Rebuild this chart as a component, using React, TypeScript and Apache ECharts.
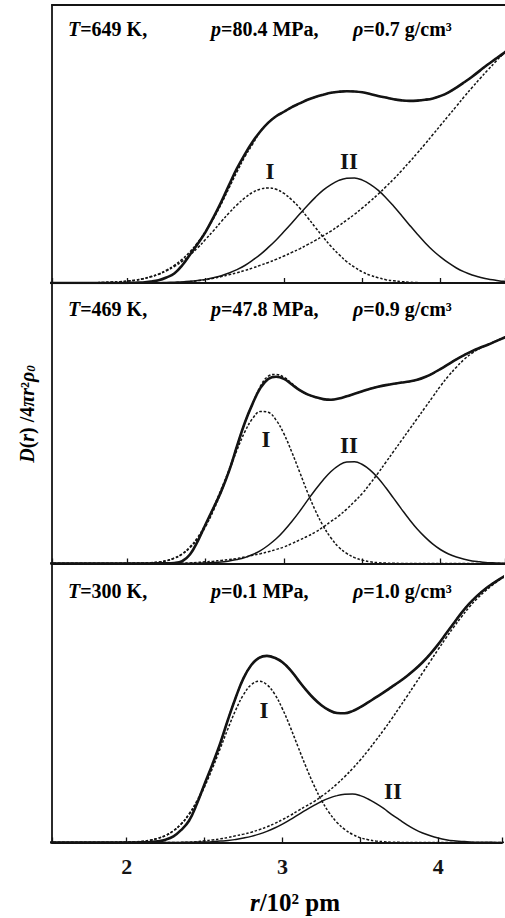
import React, { useEffect, useRef } from "react";
import * as echarts from "echarts";

// r / 10^2 pm, sampled every 0.05
const R = [
  1.5, 1.55, 1.6, 1.65, 1.7, 1.75, 1.8, 1.85, 1.9, 1.95,
  2.0, 2.05, 2.1, 2.15, 2.2, 2.25, 2.3, 2.35, 2.4, 2.45,
  2.5, 2.55, 2.6, 2.65, 2.7, 2.75, 2.8, 2.85, 2.9, 2.95,
  3.0, 3.05, 3.1, 3.15, 3.2, 3.25, 3.3, 3.35, 3.4, 3.45,
  3.5, 3.55, 3.6, 3.65, 3.7, 3.75, 3.8, 3.85, 3.9, 3.95,
  4.0, 4.05, 4.1, 4.15, 4.2, 4.25, 4.3, 4.35, 4.4, 4.45, 4.5,
];

// ---- T = 649 K ----
const total649 = [
  0, 0, 0, 0, 0, 0, 0, 0, 0, 0,
  0.05, 0.1, 0.2, 0.5, 1.0, 2.0, 3.4, 6.3, 10.2, 14.1,
  18.4, 23.6, 29.2, 35.3, 41.2, 46.3, 50.8, 54.6, 57.7, 60.0,
  61.6, 63.3, 64.6, 65.9, 66.9, 67.7, 68.4, 68.8, 69.0, 68.9,
  68.6, 68.0, 67.3, 66.7, 66.1, 65.7, 65.5, 65.6, 65.9, 66.4,
  67.3, 68.6, 70.3, 72.2, 74.2, 76.4, 78.6, 80.6, 82.6, 84.8, 87.0,
];
// fitted sum where it departs from the measured curve (r <= 2.8)
const fitHead649 = [
  0, 0, 0, 0, 0, 0.05, 0.1, 0.2, 0.3, 0.4,
  0.7, 1.0, 1.5, 2.3, 3.2, 4.6, 6.3, 8.5, 11.2, 14.6,
  18.6, 23.2, 28.5, 34.3, 40.0, 45.4, 50.0,
];
const peakI649 = [
  0, 0, 0, 0, 0, 0.05, 0.1, 0.2, 0.3, 0.4,
  0.7, 1.0, 1.5, 2.2, 3.1, 4.4, 5.9, 7.8, 10.1, 12.7,
  15.7, 18.8, 22.1, 25.2, 28.1, 30.6, 32.6, 33.8, 34.2, 33.7,
  32.2, 29.9, 27.0, 23.6, 20.0, 16.5, 13.2, 10.3, 7.7, 5.7,
  4.0, 2.8, 1.9, 1.2, 0.8, 0.5, 0.3, 0.15, 0.1, 0,
  0, 0, 0, 0, 0, 0, 0, 0, 0, 0, 0,
];
const peakII649 = [
  0, 0, 0, 0, 0, 0, 0, 0, 0, 0,
  0, 0, 0, 0.05, 0.1, 0.2, 0.3, 0.4, 0.6, 0.9,
  1.3, 1.9, 2.6, 3.6, 4.8, 6.3, 8.2, 10.3, 12.8, 15.5,
  18.5, 21.6, 24.8, 27.9, 30.8, 33.4, 35.4, 36.9, 37.7, 37.8,
  37.0, 35.5, 33.4, 30.7, 27.6, 24.3, 20.9, 17.6, 14.5, 11.7,
  9.3, 7.2, 5.4, 4.0, 2.9, 2.1, 1.4, 1.0, 0.6, 0.4, 0.3,
];
const tail649 = [
  0, 0, 0, 0, 0, 0, 0, 0, 0, 0,
  0, 0, 0, 0, 0, 0.05, 0.1, 0.3, 0.5, 0.8,
  1.2, 1.7, 2.3, 3.0, 3.7, 4.5, 5.4, 6.4, 7.4, 8.5,
  9.7, 11.0, 12.3, 13.8, 15.3, 17.0, 18.7, 20.6, 22.6, 24.7,
  27.0, 29.4, 31.9, 34.6, 37.4, 40.4, 43.5, 46.7, 50.0, 53.4,
  56.8, 60.2, 63.6, 67.0, 70.3, 73.5, 76.6, 79.6, 82.6, 85.5, 88.4,
];

// ---- T = 469 K ----
const total469 = [
  0, 0, 0, 0, 0, 0, 0, 0, 0, 0,
  0, 0, 0, 0, 0.1, 0.1, 0.2, 0.8, 3.2, 8.0,
  14.0, 19.8, 25.8, 33.0, 41.8, 50.2, 57.0, 62.6, 65.8, 66.6,
  65.8, 63.8, 61.8, 60.3, 59.3, 58.6, 58.4, 58.8, 59.6, 60.5,
  61.4, 62.3, 63.0, 63.6, 64.1, 64.5, 64.9, 65.5, 66.5, 67.8,
  69.4, 71.1, 72.8, 74.3, 75.7, 76.9, 78.0, 79.2, 80.4, 81.6, 82.8,
];
// fitted sum where it departs from the measured curve (r <= 3.1)
const fitHead469 = [
  0, 0, 0, 0, 0, 0, 0, 0, 0, 0,
  0, 0.05, 0.1, 0.25, 0.5, 1.0, 1.9, 3.4, 5.9, 9.3,
  14.0, 20.0, 26.5, 33.5, 41.8, 50.2, 57.0, 63.2, 66.8, 67.4,
  66.4, 64.2, 61.8,
];
const peakI469 = [
  0, 0, 0, 0, 0, 0, 0, 0, 0, 0,
  0, 0.05, 0.1, 0.25, 0.5, 1.0, 1.9, 3.3, 5.6, 8.8,
  13.2, 18.9, 25.6, 33.0, 40.4, 46.9, 51.7, 54.2, 53.9, 51.1,
  46.2, 39.7, 32.6, 25.4, 18.9, 13.4, 9.1, 5.8, 3.6, 2.1,
  1.2, 0.6, 0.3, 0.15, 0.1, 0, 0, 0, 0, 0,
  0, 0, 0, 0, 0, 0, 0, 0, 0, 0, 0,
];
const peakII469 = [
  0, 0, 0, 0, 0, 0, 0, 0, 0, 0,
  0, 0, 0, 0, 0, 0, 0, 0, 0.05, 0.1,
  0.2, 0.3, 0.5, 0.9, 1.4, 2.1, 3.2, 4.6, 6.5, 8.8,
  11.7, 15.0, 18.6, 22.5, 26.3, 29.8, 32.8, 35.0, 36.2, 36.3,
  35.3, 33.3, 30.5, 27.0, 23.2, 19.4, 15.7, 12.3, 9.4, 6.9,
  4.9, 3.4, 2.3, 1.5, 0.9, 0.6, 0.3, 0.2, 0.1, 0.05, 0,
];
const tail469 = [
  0, 0, 0, 0, 0, 0, 0, 0, 0, 0,
  0, 0, 0, 0, 0, 0, 0, 0.1, 0.2, 0.4,
  0.6, 0.8, 1.1, 1.4, 1.8, 2.3, 2.9, 3.5, 4.2, 5.0,
  5.9, 7.1, 8.4, 9.7, 11.2, 13.0, 15.0, 17.0, 19.4, 22.1,
  25.0, 28.5, 32.2, 36.1, 40.0, 43.9, 47.8, 51.7, 55.6, 59.5,
  63.4, 66.9, 70.0, 72.8, 75.0, 76.7, 78.0, 79.3, 80.5, 81.8, 83.0,
];

// ---- T = 300 K ----
const total300 = [
  0, 0, 0, 0, 0, 0, 0, 0, 0, 0,
  0, 0, 0.05, 0.15, 0.4, 1.0, 2.2, 4.5, 7.8, 13.8,
  21.0, 28.0, 35.5, 44.0, 52.0, 58.9, 63.6, 66.2, 66.9, 66.2,
  64.6, 61.9, 58.3, 54.8, 51.7, 49.2, 47.4, 46.4, 46.3, 47.1,
  48.5, 50.2, 52.0, 53.8, 55.7, 57.6, 59.7, 62.0, 64.6, 67.6,
  71.0, 74.8, 78.6, 82.3, 85.6, 88.4, 90.8, 92.8, 94.6, 96.2, 97.6,
];
// fitted sum where it departs from the measured curve (r <= 2.6)
const fitHead300 = [
  0, 0, 0, 0, 0, 0, 0, 0, 0, 0.05,
  0.1, 0.2, 0.4, 0.8, 1.5, 2.5, 4.2, 6.7, 10.2, 14.8,
  20.8, 27.7, 35.4,
];
const peakI300 = [
  0, 0, 0, 0, 0, 0, 0, 0, 0, 0.05,
  0.1, 0.2, 0.4, 0.8, 1.5, 2.5, 4.2, 6.6, 10.0, 14.4,
  20.0, 26.5, 33.6, 40.8, 47.5, 53.0, 56.6, 57.8, 56.6, 53.2,
  47.9, 41.4, 34.3, 27.3, 20.8, 15.2, 10.7, 7.2, 4.7, 2.9,
  1.7, 1.0, 0.5, 0.3, 0.1, 0.05, 0, 0, 0, 0,
  0, 0, 0, 0, 0, 0, 0, 0, 0, 0, 0,
];
const peakII300 = [
  0, 0, 0, 0, 0, 0, 0, 0, 0, 0,
  0, 0, 0, 0, 0, 0, 0, 0, 0.1, 0.15,
  0.2, 0.3, 0.5, 0.7, 1.1, 1.6, 2.2, 3.0, 4.0, 5.2,
  6.6, 8.2, 9.9, 11.6, 13.2, 14.7, 15.9, 16.8, 17.3, 17.4,
  16.8, 15.6, 14.0, 12.2, 10.1, 8.2, 6.3, 4.7, 3.4, 2.4,
  1.6, 1.0, 0.6, 0.4, 0.2, 0.1, 0.1, 0.05, 0, 0, 0,
];
const tail300 = [
  0, 0, 0, 0, 0, 0, 0, 0, 0, 0,
  0, 0, 0, 0, 0, 0, 0, 0.05, 0.1, 0.3,
  0.6, 0.9, 1.3, 1.8, 2.4, 3.0, 3.7, 4.6, 5.6, 6.8,
  8.2, 9.7, 11.4, 13.0, 14.6, 16.5, 18.6, 21.0, 23.6, 26.5,
  29.6, 33.0, 36.6, 40.3, 44.2, 48.3, 52.4, 56.6, 60.8, 65.0,
  69.2, 73.3, 77.2, 80.9, 84.4, 87.4, 90.0, 92.3, 94.4, 96.1, 97.6,
];

const INK = "#141414";
const FONT = '"Liberation Serif", "Times New Roman", serif';

const withHead = (head: number[], rest: number[]) => head.concat(rest.slice(head.length));

const panels = [
  { T: "649", p: "80.4", rho: "0.7", total: total649, fit: withHead(fitHead649, total649), I: peakI649, II: peakII649, tail: tail649 },
  { T: "469", p: "47.8", rho: "0.9", total: total469, fit: withHead(fitHead469, total469), I: peakI469, II: peakII469, tail: tail469 },
  { T: "300", p: "0.1", rho: "1.0", total: total300, fit: withHead(fitHead300, total300), I: peakI300, II: peakII300, tail: tail300 },
];

// layout of the three stacked panels
const grids = [
  { left: 52, right: 0, top: 5, height: 278 },
  { left: 52, right: 0, top: 283, height: 280.5 },
  { left: 52, right: 0, top: 563.5, height: 279 },
];
const headerY = [29, 309, 591];
const headerX = { T: 68, p: 211, rho: 353 };
const peakLabelPos = [
  { I: [270, 171], II: [349, 161] },
  { I: [266, 439], II: [349, 445] },
  { I: [264, 710], II: [393, 791] },
];

const rich = {
  n: { fontFamily: FONT, fontWeight: "bold" as const, fontSize: 20, color: INK },
  i: { fontFamily: FONT, fontWeight: "bold" as const, fontStyle: "italic" as const, fontSize: 20, color: INK },
  sub: { fontFamily: FONT, fontWeight: "bold" as const, fontStyle: "italic" as const, fontSize: 13, color: INK, verticalAlign: "bottom" as const },
};

const pts = (vals: number[]) => R.map((r, k) => [r, vals[k]]);

const dotted = { color: INK, width: 1.5, type: [2.6, 1.8] as number[] };

function buildOption() {
  const xAxis: any[] = [];
  const yAxis: any[] = [];
  const series: any[] = [];
  const graphic: any[] = [];

  grids.forEach((_, gi) => {
    xAxis.push({
      type: "value",
      gridIndex: gi,
      min: 1.52,
      max: 4.41,
      splitNumber: 6,
      axisLine: { show: true, onZero: false, lineStyle: { color: INK, width: 2 } },
      axisTick: { show: true, inside: true, length: 5, lineStyle: { color: INK, width: 1.3 } },
      axisLabel: {
        show: gi === 2,
        margin: 13,
        fontFamily: FONT,
        fontWeight: "bold",
        fontSize: 22,
        color: INK,
        formatter: (v: number) => (Number.isInteger(v) ? String(v) : ""),
      },
      splitLine: { show: false },
    });
    yAxis.push({
      type: "value",
      gridIndex: gi,
      min: 0,
      max: 100,
      axisLine: { show: true, onZero: false, lineStyle: { color: INK, width: 1.8 } },
      axisTick: { show: false },
      axisLabel: { show: false },
      splitLine: { show: false },
    });
  });
  // upper frame line of the first panel
  xAxis.push({
    type: "value",
    gridIndex: 0,
    position: "top",
    min: 1.52,
    max: 4.41,
    axisLine: { show: true, onZero: false, lineStyle: { color: INK, width: 2 } },
    axisTick: { show: false },
    axisLabel: { show: false },
    splitLine: { show: false },
  });

  panels.forEach((pn, gi) => {
    const base = {
      type: "line",
      xAxisIndex: gi,
      yAxisIndex: gi,
      showSymbol: false,
      symbol: "none",
      smooth: 0.4,
      silent: true,
    };
    series.push({ ...base, name: `tail ${pn.T}`, data: pts(pn.tail), lineStyle: dotted, z: 2 });
    series.push({ ...base, name: `I ${pn.T}`, data: pts(pn.I), lineStyle: dotted, z: 2 });
    series.push({ ...base, name: `II ${pn.T}`, data: pts(pn.II), lineStyle: { color: INK, width: 1.5 }, z: 3 });
    series.push({ ...base, name: `D(r) ${pn.T}`, data: pts(pn.total), lineStyle: { color: INK, width: 2.6 }, z: 4 });
    series.push({ ...base, name: `fit ${pn.T}`, data: pts(pn.fit), lineStyle: { ...dotted, width: 1.6 }, z: 5 });

    const y = headerY[gi];
    graphic.push(
      { type: "text", x: headerX.T, y, style: { text: `{i|T}{n|=${pn.T} K,}`, rich, verticalAlign: "middle", align: "left" } },
      { type: "text", x: headerX.p, y, style: { text: `{i|p}{n|=${pn.p} MPa,}`, rich, verticalAlign: "middle", align: "left" } },
      { type: "text", x: headerX.rho, y, style: { text: `{i|ρ}{n|=${pn.rho} g/cm³}`, rich, verticalAlign: "middle", align: "left" } }
    );
    const lp = peakLabelPos[gi];
    graphic.push(
      { type: "text", x: lp.I[0], y: lp.I[1], style: { text: "I", fontFamily: FONT, fontWeight: "bold", fontSize: 23, fill: INK, align: "center", verticalAlign: "middle" } },
      { type: "text", x: lp.II[0], y: lp.II[1], style: { text: "II", fontFamily: FONT, fontWeight: "bold", fontSize: 23, fill: INK, align: "center", verticalAlign: "middle" } }
    );
  });

  // axis titles
  graphic.push({
    type: "text",
    x: 27,
    y: 414,
    rotation: Math.PI / 2,
    style: { text: "{i|D}{n|(}{i|r}{n|) /4}{i|πr}{n|²}{i|ρ}{sub|0}", rich, align: "center", verticalAlign: "middle" },
  });
  graphic.push({
    type: "text",
    x: 295,
    y: 902,
    style: {
      text: "{i|r}{n|/10² pm}",
      rich: {
        n: { ...rich.n, fontSize: 25 },
        i: { ...rich.i, fontSize: 25 },
      },
      align: "center",
      verticalAlign: "middle",
    },
  });

  return {
    animation: false,
    backgroundColor: "#ffffff",
    grid: grids,
    xAxis,
    yAxis,
    series,
    graphic,
  };
}

export default function App() {
  const ref = useRef<HTMLDivElement>(null);
  useEffect(() => {
    if (!ref.current) return;
    const chart = echarts.init(ref.current, null, { renderer: "svg" });
    chart.setOption(buildOption() as any);
    return () => chart.dispose();
  }, []);
  return (
    <div
      ref={ref}
      style={{ position: "absolute", left: 0, top: 0, width: 505, height: 918, background: "#ffffff" }}
    />
  );
}
